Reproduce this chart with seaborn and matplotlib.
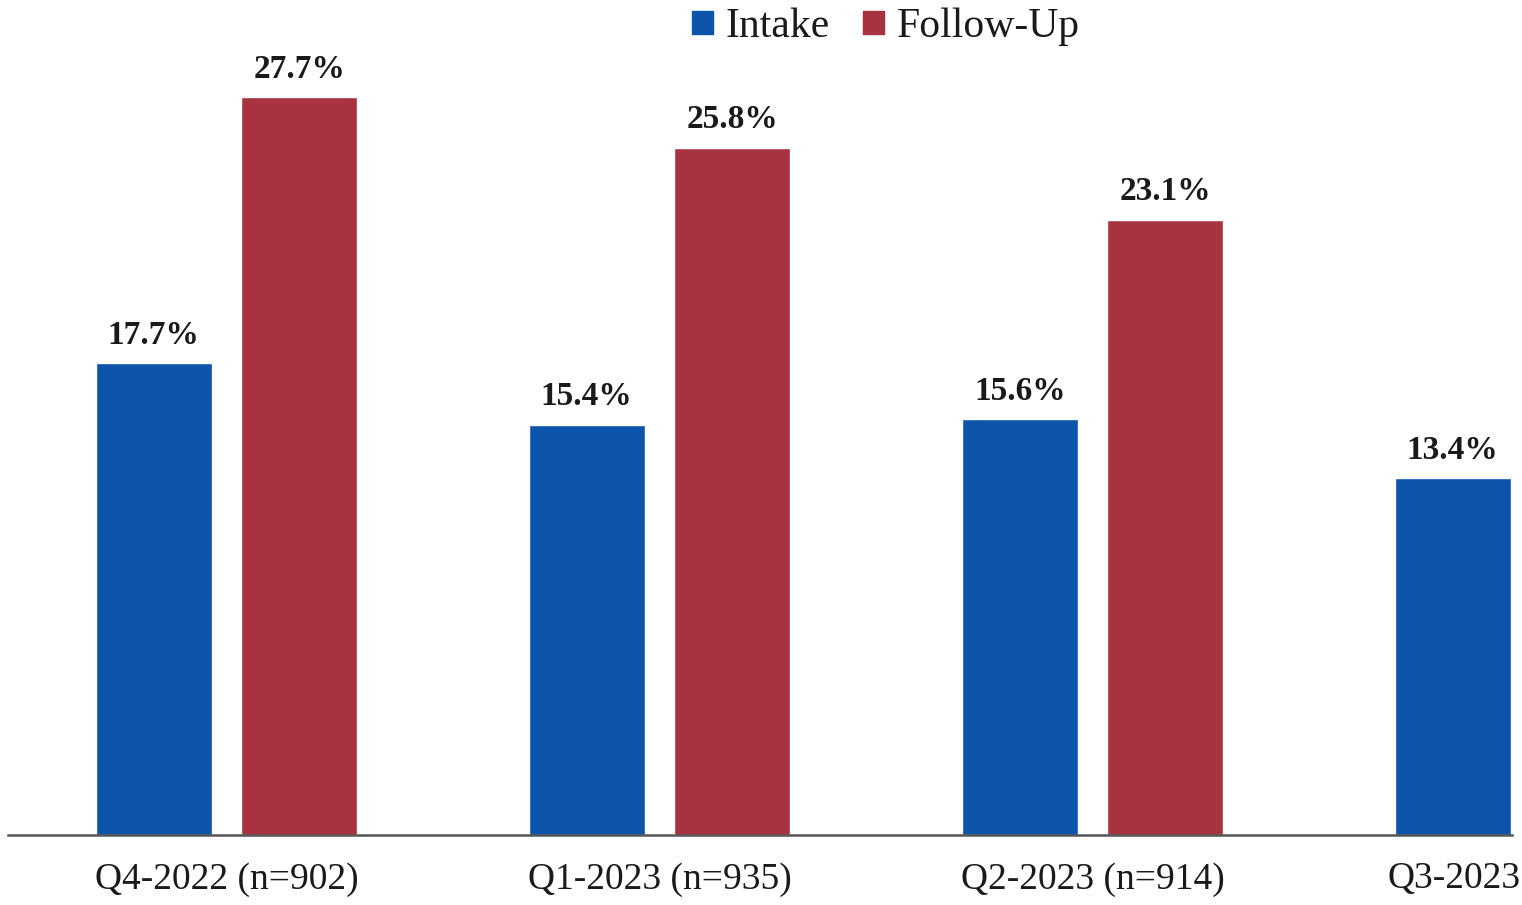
import pandas as pd
import seaborn as sns
import matplotlib.pyplot as plt

# === Data ===
quarters = ["Q4-2022 (n=902)", "Q1-2023 (n=935)", "Q2-2023 (n=914)", "Q3-2023"]
intake = [17.7, 15.4, 15.6, 13.4]
follow_up = [27.7, 25.8, 23.1, None]  # Q3 follow-up is cut off in the source

BLUE = "#0D54AB"
RED = "#A8323F"

rows = []
for q, a, b in zip(quarters, intake, follow_up):
    rows.append({"quarter": q, "series": "Intake", "pct": a})
    if b is not None:
        rows.append({"quarter": q, "series": "Follow-Up", "pct": b})
df = pd.DataFrame(rows)

sns.set_style("white")
plt.rcParams["font.family"] = ["Liberation Serif", "DejaVu Serif"]

fig = plt.figure(figsize=(15.22, 9.05), dpi=100)
ax = fig.add_axes([0.0, 70 / 905, 1.0, 30 * 26.64 / 905])

sns.barplot(data=df, x="quarter", y="pct", hue="series", order=quarters,
            hue_order=["Intake", "Follow-Up"], palette=[BLUE, RED],
            width=0.672, gap=0.2, saturation=1, ax=ax, legend=False)

for cont in ax.containers:
    ax.bar_label(cont, fmt="%.1f%%", padding=9, fontsize=24,
                 fontweight="bold", color="#1a1a1a")

ax.set_xlim(-0.523, 2.992)
ax.set_ylim(0, 30)
ax.set_xlabel("")
ax.set_ylabel("")
ax.set_yticks([])
ax.tick_params(axis="x", length=0, pad=20, labelsize=27, labelcolor="#1a1a1a")

# last tick sits just past the view limit (group is cut off in the source), label it at the edge
ax.text(0.999, -44 / 26.64, quarters[-1], transform=ax.get_yaxis_transform(),
        ha="right", va="center", fontsize=27, color="#1a1a1a", clip_on=False)

for s in ["top", "left", "right"]:
    ax.spines[s].set_visible(False)
ax.spines["bottom"].set_color("#555555")
ax.spines["bottom"].set_linewidth(1.8)
ax.spines["bottom"].set_bounds(-0.505, 2.969)

# === Legend ===
handles = [plt.Rectangle((0, 0), 1, 1, color=BLUE), plt.Rectangle((0, 0), 1, 1, color=RED)]
fig.legend(handles, ["Intake", "Follow-Up"], loc="center", bbox_to_anchor=(0.582, 0.970),
           ncol=2, frameon=False, fontsize=30, handlelength=0.5, handleheight=0.5,
           handletextpad=0.3, columnspacing=0.8, labelcolor="#1a1a1a")

fig.savefig("out.png", dpi=100)
